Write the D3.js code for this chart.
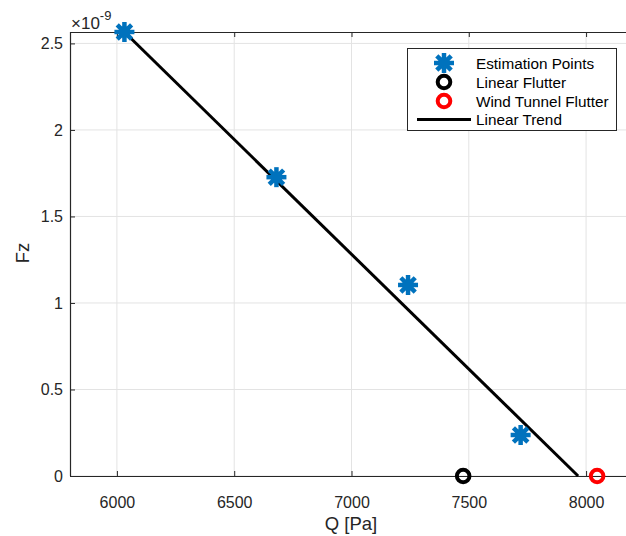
<!DOCTYPE html>
<html><head><meta charset="utf-8">
<script src="https://cdn.jsdelivr.net/npm/d3@7"></script>
<style>body{margin:0;background:#fff;} svg{display:block;font-family:"Liberation Sans",Arial,Helvetica,sans-serif;}</style>
</head><body>
<svg id="c" width="626" height="536"></svg>
<script>
// Data (Fz in units of 1e-9)
const estQ = [6032, 6680, 7241, 7721];
const estFz = [2.566, 1.727, 1.104, 0.237];
const linearFlutterQ = [7476];
const linearFlutterFz = [0];
const windTunnelQ = [8047];
const windTunnelFz = [0];
const trendQ = [6032, 7966];
const trendFz = [2.566, 0];
const xTicks = [6000, 6500, 7000, 7500, 8000];
const yTicks = [0, 0.5, 1, 1.5, 2, 2.5];
const legendLabels = ["Estimation Points", "Linear Flutter", "Wind Tunnel Flutter", "Linear Trend"];

const svg = d3.select("#c");
const L = 70, T = 32, R = 633, B = 476;
const x = d3.scaleLinear().domain([5800, 8200]).range([L, R]);
const y = d3.scaleLinear().domain([0, 2.566]).range([B, T]);
const txt = "#262626";

// grid
const g = svg.append("g");
g.selectAll(".vg").data(xTicks).enter().append("line")
  .attr("x1", d => x(d)).attr("x2", d => x(d)).attr("y1", T).attr("y2", B)
  .attr("stroke", "#e3e3e3").attr("stroke-width", 1);
g.selectAll(".hg").data(yTicks).enter().append("line")
  .attr("x1", L).attr("x2", R).attr("y1", d => y(d)).attr("y2", d => y(d))
  .attr("stroke", "#e3e3e3").attr("stroke-width", 1);

// axes
const xAxis = d3.axisBottom(x).tickValues(xTicks).tickSize(-5).tickPadding(21).tickFormat(d3.format("d"));
const xg = svg.append("g").attr("transform", `translate(0,${B})`).call(xAxis);
const xAxisTop = d3.axisTop(x).tickValues(xTicks).tickSize(-5).tickFormat("");
const xgt = svg.append("g").attr("transform", `translate(0,${T})`).call(xAxisTop);
const yAxis = d3.axisLeft(y).tickValues(yTicks).tickSize(-5).tickPadding(7).tickFormat(d => d3.format("")(d));
const yg = svg.append("g").attr("transform", `translate(${L},0)`).call(yAxis);
[xg, xgt, yg].forEach(a => {
  a.select(".domain").attr("stroke", txt).attr("stroke-width", 1.2);
  a.selectAll(".tick line").attr("stroke", txt);
  a.selectAll("text").attr("fill", txt).attr("font-size", 16).attr("font-family", "Liberation Sans, Arial, sans-serif");
});
xg.select(".domain").attr("d", `M${L},0.5H${R}`);
xgt.select(".domain").attr("d", `M${L},0.5H${R}`);
yg.select(".domain").attr("d", `M0.5,${B}V${T}`);

// exponent label
const ex = svg.append("text").attr("x", 71).attr("y", 29).attr("fill", txt).attr("font-size", 17);
ex.append("tspan").text("\u00d710");
ex.append("tspan").attr("dy", -9).attr("font-size", 13).text("-9");

// axis labels
svg.append("text").attr("x", 351).attr("y", 530).attr("text-anchor", "middle")
  .attr("fill", txt).attr("font-size", 18.5).text("Q [Pa]");
svg.append("text").attr("transform", `translate(29,253) rotate(-90)`).attr("text-anchor", "middle")
  .attr("fill", txt).attr("font-size", 18.5).text("Fz");

// trend line
const line = d3.line().x(d => x(d[0])).y(d => y(d[1]));
svg.append("path").datum(d3.zip(trendQ, trendFz)).attr("d", line)
  .attr("fill", "none").attr("stroke", "#000").attr("stroke-width", 3);

// star marker
function star(sel, cx, cy, s) {
  const gg = sel.append("g").attr("transform", `translate(${cx},${cy})`);
  const a = s, b = s * 0.72;
  [[-a,0,a,0],[0,-a,0,a],[-b,-b,b,b],[-b,b,b,-b]].forEach(p => {
    gg.append("line").attr("x1", p[0]).attr("y1", p[1]).attr("x2", p[2]).attr("y2", p[3])
      .attr("stroke", "#0072BD").attr("stroke-width", 4.5).attr("stroke-linecap", "butt");
  });
  gg.append("circle").attr("r", s * 0.6).attr("fill", "#0072BD");
}
const estG = svg.append("g");
d3.zip(estQ, estFz).forEach(d => star(estG, x(d[0]), y(d[1]), 10));

// circles
svg.selectAll(".lf").data(d3.zip(linearFlutterQ, linearFlutterFz)).enter().append("circle")
  .attr("cx", d => x(d[0])).attr("cy", d => y(d[1])).attr("r", 6.3)
  .attr("fill", "none").attr("stroke", "#000").attr("stroke-width", 4);
svg.selectAll(".wt").data(d3.zip(windTunnelQ, windTunnelFz)).enter().append("circle")
  .attr("cx", d => x(d[0])).attr("cy", d => y(d[1])).attr("r", 6.3)
  .attr("fill", "none").attr("stroke", "#ff0000").attr("stroke-width", 4);

// legend
const lg = svg.append("g");
lg.append("rect").attr("x", 407.5).attr("y", 48.5).attr("width", 209).attr("height", 82)
  .attr("fill", "#fff").attr("stroke", txt).attr("stroke-width", 1);
const ly = [63, 82, 101, 119.5];
legendLabels.forEach((t, i) => {
  lg.append("text").attr("x", 476).attr("y", ly[i] + 5.5).attr("fill", "#000").attr("font-size", 15.3).text(t);
});
star(lg, 444, ly[0], 10);
lg.append("circle").attr("cx", 444).attr("cy", ly[1]).attr("r", 6.3).attr("fill", "none").attr("stroke", "#000").attr("stroke-width", 4);
lg.append("circle").attr("cx", 444).attr("cy", ly[2]).attr("r", 6.3).attr("fill", "none").attr("stroke", "#ff0000").attr("stroke-width", 4);
lg.append("line").attr("x1", 417).attr("x2", 471).attr("y1", ly[3]).attr("y2", ly[3]).attr("stroke", "#000").attr("stroke-width", 3);
</script>
</body></html>
